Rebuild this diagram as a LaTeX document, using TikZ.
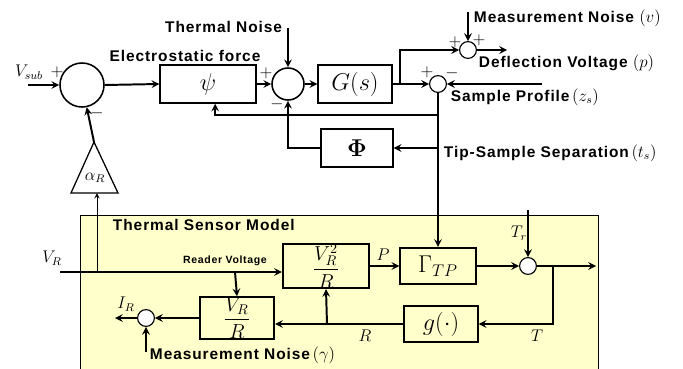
\documentclass[tikz,border=0pt]{standalone}
\usepackage[no-math]{fontspec}
\newfontfamily\lblfont[LetterSpace=6]{Liberation Sans}
\definecolor{sensorbg}{RGB}{255,255,204}
\begin{document}
\begin{tikzpicture}[>=stealth, x=0.025cm, y=-0.025cm,
    blk/.style={draw, line width=1.5pt, inner sep=0pt},
    sumc/.style={draw, circle, line width=1.1pt, inner sep=0pt},
    smc/.style={draw, circle, line width=0.8pt, fill=white, inner sep=0pt, minimum size=0.42cm},
    lbl/.style={font=\lblfont\bfseries\fontsize{11}{13}\selectfont, inner sep=0pt},
    sgn/.style={inner sep=0pt, font=\large},
    every path/.style={line width=1.4pt}]
\useasboundingbox (0,0) rectangle (683,368);
% sensor model background
\draw[fill=sensorbg, line width=0.5pt] (80,215) rectangle (598,372);
\node[lbl, anchor=west] (tsm) at (112,225) {Thermal Sensor Model};
% forward path
\node[sumc, minimum size=1.1cm] (s1) at (82,85) {};
\node[blk, minimum width=2.38cm, minimum height=0.93cm] (psi) at (208,84) {\LARGE$\psi$};
\node[sumc, minimum size=0.8cm] (s2) at (288,84) {};
\node[blk, minimum width=1.83cm, minimum height=0.93cm] (G) at (355,84) {\LARGE$G(s)$};
\node[smc] (s4) at (438,84) {};
\node[smc] (s3) at (468,50) {};
\node[blk, minimum width=1.78cm, minimum height=0.93cm] (phi) at (357,148) {\LARGE$\mathbf{\Phi}$};
\coordinate (vsub) at (28,85);
\coordinate (br) at (400,84);
\coordinate (tntop) at (288,28);
\coordinate (mntop) at (468,12);
\coordinate (defl) at (507,50);
\coordinate (zs) at (542,84);
\node[anchor=east, inner sep=0pt] (vsubl) at (44,72) {\large$V_{sub}$};
\node[sgn] at (57,72) {$+$};
\node[sgn] at (97,113) {$-$};
\node[sgn] at (266,73) {$+$};
\node[sgn] at (277,104) {$-$};
\node[sgn] at (427,72) {$+$};
\node[sgn] at (452,73) {$-$};
\node[sgn] at (455,42) {$+$};
\node[sgn] at (479,40) {$+$};
\node[lbl] (efl) at (185,56) {Electrostatic force};
\node[lbl, anchor=east] (tnl) at (283,27) {Thermal Noise};
\node[lbl, anchor=west] (mnl) at (473,18) {Measurement Noise {\large$(v)$}};
\node[lbl, anchor=west] (dvl) at (478,63) {Deflection Voltage {\large$(p)$}};
\node[lbl, anchor=west] (spl) at (450,97) {Sample Profile\,{\large$(z_s)$}};
\node[lbl, anchor=west] (tsl) at (443,153) {Tip-Sample Separation\,{\large$(t_s)$}};
\draw[->] (vsub) -- (s1.west);
\draw[->] (s1.east) -- (psi.west);
\draw[->] (psi.east) -- (s2.west);
\draw[->] (tntop) -- (s2.north);
\draw[->] (s2.east) -- (G.west);
\draw[->] (G.east) -- (s4.west);
\draw[->] (br) |- (s3.west);
\draw[->] (mntop) -- (s3.north);
\draw[->] (s3.east) -- (defl);
\draw[->] (zs) -- (s4.east);
\draw[->] (438,115) -| ([xshift=0.18cm]psi.south);
\draw[->] (438,148) -- (phi.east);
\draw[->] (phi.west) -| (s2.south);
% amplifier
\coordinate (atop) at (94,142);
\coordinate (abl) at (71,193);
\coordinate (abr) at (118,193);
\draw[line width=0.9pt] (atop) -- (abr) -- (abl) -- cycle;
\node (alab) at (95,178) {\large$\alpha_R$};
\draw[->] (atop) -- (s1.-78);
% thermal sensor model
\node[blk, minimum width=2.15cm, minimum height=1.1cm] (vr2) at (326,266) {\Large$\displaystyle\frac{V_R^2}{R}$};
\node[blk, minimum width=1.88cm, minimum height=0.9cm] (gam) at (438,266) {\LARGE$\Gamma_{TP}$};
\node[smc] (s5) at (528,266) {};
\node[blk, minimum width=1.83cm, minimum height=0.88cm] (g) at (441,324) {\LARGE$g(\cdot)$};
\node[blk, minimum width=1.85cm, minimum height=0.88cm] (vr1) at (237,318) {\Large$\displaystyle\frac{V_R}{R}$};
\node[smc] (s6) at (146,318) {};
\coordinate (vrin) at (60,272);
\coordinate (tr) at (528,210);
\coordinate (tout) at (596,266);
\coordinate (irout) at (115,318);
\coordinate (mgam) at (146,352);
\node (vrl) at (52,258) {\large$V_R$};
\node[lbl, font=\lblfont\bfseries\fontsize{7.5}{9}\selectfont] (rvl) at (225,261) {Reader Voltage};
\node (pl) at (383,255) {\large$P$};
\node (trl) at (519,233) {\large$T_r$};
\node (tl) at (537,336) {\large$T$};
\node (rl) at (365,336) {\large$R$};
\node (irl) at (126,304) {\large$I_R$};
\node[lbl, anchor=west] (mgl) at (149,355) {Measurement Noise\,{\large$(\gamma)$}};
\draw[->] (vrin) -- (vrin -| vr2.west);
\draw[->, line width=0.7pt] (97,272) -- (97,193);
\draw[->] (235,272) -- (vr1.north);
\draw[->] (s4.south) -- (gam.north);
\draw[->] (vr2.east) -- (gam.west);
\draw[->] (gam.east) -- (s5.west);
\draw[->] (tr) -- (s5.north);
\draw[->] (s5.east) -- (tout);
\draw[->] (553,266) |- (g.east);
\draw[->] (g.west) -- (g.west -| vr1.east);
\draw[->] (327,324) -- (vr2.south);
\draw[->] (vr1.west) -- (s6.east);
\draw[->] (s6.west) -- (irout);
\draw[->] (mgam) -- (s6.south);
\end{tikzpicture}
\end{document}
